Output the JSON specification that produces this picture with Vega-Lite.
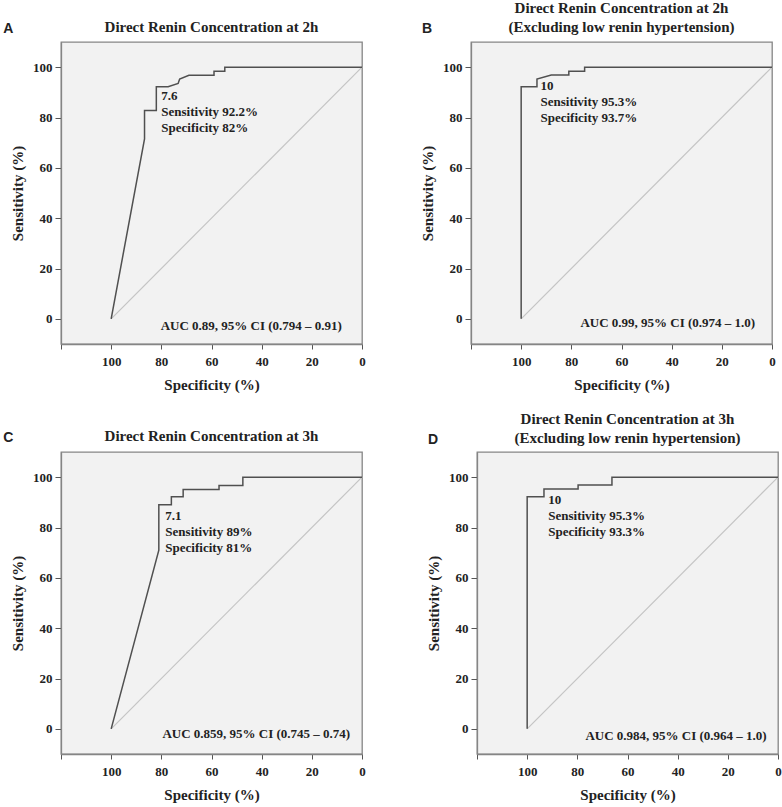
{
  "$schema": "https://vega.github.io/schema/vega-lite/v6.json",
  "background": "white",
  "padding": {"left": 2, "top": 0, "right": 2, "bottom": 2},
  "datasets": {
    "diag": [{"spec": 100, "sens": 0}, {"spec": 0, "sens": 100}],
    "rocA": [
      {"i": 0, "spec": 100, "sens": 0},
      {"i": 1, "spec": 86.7, "sens": 71.5},
      {"i": 2, "spec": 86.7, "sens": 82.8},
      {"i": 3, "spec": 82, "sens": 82.8},
      {"i": 4, "spec": 82, "sens": 92.2},
      {"i": 5, "spec": 77.3, "sens": 92.2},
      {"i": 6, "spec": 73.3, "sens": 93.5},
      {"i": 7, "spec": 72.7, "sens": 95.3},
      {"i": 8, "spec": 69, "sens": 96.8},
      {"i": 9, "spec": 59, "sens": 96.8},
      {"i": 10, "spec": 59, "sens": 98.4},
      {"i": 11, "spec": 54.7, "sens": 98.4},
      {"i": 12, "spec": 54.7, "sens": 100},
      {"i": 13, "spec": 0, "sens": 100}
    ],
    "rocB": [
      {"i": 0, "spec": 100, "sens": 0},
      {"i": 1, "spec": 100, "sens": 92.2},
      {"i": 2, "spec": 93.7, "sens": 92.2},
      {"i": 3, "spec": 93.7, "sens": 95.3},
      {"i": 4, "spec": 88, "sens": 96.9},
      {"i": 5, "spec": 81, "sens": 96.9},
      {"i": 6, "spec": 81, "sens": 98.4},
      {"i": 7, "spec": 74.7, "sens": 98.4},
      {"i": 8, "spec": 74.7, "sens": 100},
      {"i": 9, "spec": 0, "sens": 100}
    ],
    "rocC": [
      {"i": 0, "spec": 100, "sens": 0},
      {"i": 1, "spec": 81, "sens": 71},
      {"i": 2, "spec": 81, "sens": 89},
      {"i": 3, "spec": 76, "sens": 89},
      {"i": 4, "spec": 76, "sens": 92.2},
      {"i": 5, "spec": 71.3, "sens": 92.2},
      {"i": 6, "spec": 71.3, "sens": 95.1},
      {"i": 7, "spec": 57, "sens": 95.1},
      {"i": 8, "spec": 57, "sens": 96.7},
      {"i": 9, "spec": 47.5, "sens": 96.7},
      {"i": 10, "spec": 47.5, "sens": 100},
      {"i": 11, "spec": 0, "sens": 100}
    ],
    "rocD": [
      {"i": 0, "spec": 100, "sens": 0},
      {"i": 1, "spec": 100, "sens": 92.2},
      {"i": 2, "spec": 93.3, "sens": 92.2},
      {"i": 3, "spec": 93.3, "sens": 95.3},
      {"i": 4, "spec": 79.7, "sens": 95.3},
      {"i": 5, "spec": 79.7, "sens": 96.9},
      {"i": 6, "spec": 66.2, "sens": 96.9},
      {"i": 7, "spec": 66.2, "sens": 100},
      {"i": 8, "spec": 0, "sens": 100}
    ]
  },
  "config": {
    "view": {"stroke": "#858585", "fill": "#f2f2f2", "strokeWidth": 1.3},
    "axis": {
      "labelFont": "Liberation Serif", "labelFontWeight": "bold", "labelFontSize": 13, "labelColor": "#222222",
      "titleFont": "Liberation Serif", "titleFontWeight": "bold", "titleFontSize": 15, "titleColor": "#222222",
      "grid": false, "domainColor": "#858585", "domainWidth": 1.3, "tickColor": "#555555", "tickSize": 5,
      "labelFlush": false, "labelOverlap": false
    },
    "axisX": {"labelPadding": 6, "titlePadding": 9},
    "axisY": {"labelPadding": 3, "titlePadding": 7, "tickSize": 6},
    "title": {"font": "Liberation Serif", "fontSize": 15, "fontWeight": "bold", "color": "#222222", "offset": -13, "lineHeight": 19},
    "text": {"font": "Liberation Serif", "fontWeight": "bold", "fontSize": 13, "color": "#222222"}
  },
  "concat": [
    {
      "hconcat": [
        {
          "width": 301, "height": 302,
          "title": {"text": "Direct Renin Concentration at 2h"},
          "layer": [
            {"data": {"name": "diag"}, "mark": {"type": "line", "color": "#c4c4c4", "strokeWidth": 1.2},
             "encoding": {
              "x": {"field": "spec", "type": "quantitative", "scale": {"domain": [0, 120], "reverse": true, "nice": false, "zero": false},
                    "axis": {"title": "Specificity (%)", "values": [0, 20, 40, 60, 80, 100, 120], "labelExpr": "datum.value == 120 ? '' : datum.label"}},
              "y": {"field": "sens", "type": "quantitative", "scale": {"domain": [-10, 110], "nice": false, "zero": false},
                    "axis": {"title": "Sensitivity (%)", "values": [0, 20, 40, 60, 80, 100]}}}},
            {"data": {"name": "rocA"}, "mark": {"type": "line", "color": "#505050", "strokeWidth": 1.5},
             "encoding": {"x": {"field": "spec", "type": "quantitative"}, "y": {"field": "sens", "type": "quantitative"}, "order": {"field": "i", "type": "quantitative"}}},
            {"data": {"values": [{"label": ["7.6", "Sensitivity 92.2%", "Specificity 82%"]}]}, "mark": {"type": "text", "align": "left", "baseline": "alphabetic", "lineHeight": 16, "fontSize": 13},
             "encoding": {"x": {"datum": 80, "type": "quantitative"}, "y": {"datum": 86.8, "type": "quantitative"}, "text": {"field": "label"}}},
            {"data": {"values": [{"label": "AUC 0.89, 95% CI (0.794 – 0.91)"}]}, "mark": {"type": "text", "align": "right", "baseline": "middle", "fontSize": 13},
             "encoding": {"x": {"datum": 8, "type": "quantitative"}, "y": {"datum": -3, "type": "quantitative"}, "text": {"field": "label"}}},
            {"data": {"values": [{"label": "A"}]}, "mark": {"type": "text", "align": "left", "baseline": "alphabetic", "font": "Liberation Sans", "fontSize": 14},
             "encoding": {"x": {"datum": 143, "type": "quantitative"}, "y": {"datum": 113.6, "type": "quantitative"}, "text": {"field": "label"}}}
          ]
        },
        {
          "width": 301, "height": 302,
          "title": {"text": ["Direct Renin Concentration at 2h", "(Excluding low renin hypertension)"]},
          "layer": [
            {"data": {"name": "diag"}, "mark": {"type": "line", "color": "#c4c4c4", "strokeWidth": 1.2},
             "encoding": {
              "x": {"field": "spec", "type": "quantitative", "scale": {"domain": [0, 120], "reverse": true, "nice": false, "zero": false},
                    "axis": {"title": "Specificity (%)", "values": [0, 20, 40, 60, 80, 100, 120], "labelExpr": "datum.value == 120 ? '' : datum.label"}},
              "y": {"field": "sens", "type": "quantitative", "scale": {"domain": [-10, 110], "nice": false, "zero": false},
                    "axis": {"title": "Sensitivity (%)", "values": [0, 20, 40, 60, 80, 100]}}}},
            {"data": {"name": "rocB"}, "mark": {"type": "line", "color": "#505050", "strokeWidth": 1.5},
             "encoding": {"x": {"field": "spec", "type": "quantitative"}, "y": {"field": "sens", "type": "quantitative"}, "order": {"field": "i", "type": "quantitative"}}},
            {"data": {"values": [{"label": ["10", "Sensitivity 95.3%", "Specificity 93.7%"]}]}, "mark": {"type": "text", "align": "left", "baseline": "alphabetic", "lineHeight": 16, "fontSize": 13},
             "encoding": {"x": {"datum": 92.3, "type": "quantitative"}, "y": {"datum": 91.1, "type": "quantitative"}, "text": {"field": "label"}}},
            {"data": {"values": [{"label": "AUC 0.99, 95% CI (0.974 – 1.0)"}]}, "mark": {"type": "text", "align": "right", "baseline": "middle", "fontSize": 13},
             "encoding": {"x": {"datum": 6.7, "type": "quantitative"}, "y": {"datum": -1.7, "type": "quantitative"}, "text": {"field": "label"}}},
            {"data": {"values": [{"label": "B"}]}, "mark": {"type": "text", "align": "left", "baseline": "alphabetic", "font": "Liberation Sans", "fontSize": 14},
             "encoding": {"x": {"datum": 139.5, "type": "quantitative"}, "y": {"datum": 113.6, "type": "quantitative"}, "text": {"field": "label"}}}
          ]
        }
      ],
      "spacing": 109,
      "bounds": "flush"
    },
    {
      "hconcat": [
        {
          "width": 301, "height": 302,
          "title": {"text": "Direct Renin Concentration at 3h"},
          "layer": [
            {"data": {"name": "diag"}, "mark": {"type": "line", "color": "#c4c4c4", "strokeWidth": 1.2},
             "encoding": {
              "x": {"field": "spec", "type": "quantitative", "scale": {"domain": [0, 120], "reverse": true, "nice": false, "zero": false},
                    "axis": {"title": "Specificity (%)", "values": [0, 20, 40, 60, 80, 100, 120], "labelExpr": "datum.value == 120 ? '' : datum.label"}},
              "y": {"field": "sens", "type": "quantitative", "scale": {"domain": [-10, 110], "nice": false, "zero": false},
                    "axis": {"title": "Sensitivity (%)", "values": [0, 20, 40, 60, 80, 100]}}}},
            {"data": {"name": "rocC"}, "mark": {"type": "line", "color": "#505050", "strokeWidth": 1.5},
             "encoding": {"x": {"field": "spec", "type": "quantitative"}, "y": {"field": "sens", "type": "quantitative"}, "order": {"field": "i", "type": "quantitative"}}},
            {"data": {"values": [{"label": ["7.1", "Sensitivity 89%", "Specificity 81%"]}]}, "mark": {"type": "text", "align": "left", "baseline": "alphabetic", "lineHeight": 16, "fontSize": 13},
             "encoding": {"x": {"datum": 78.4, "type": "quantitative"}, "y": {"datum": 82.8, "type": "quantitative"}, "text": {"field": "label"}}},
            {"data": {"values": [{"label": "AUC 0.859, 95% CI (0.745 – 0.74)"}]}, "mark": {"type": "text", "align": "right", "baseline": "middle", "fontSize": 13},
             "encoding": {"x": {"datum": 4.7, "type": "quantitative"}, "y": {"datum": -2, "type": "quantitative"}, "text": {"field": "label"}}},
            {"data": {"values": [{"label": "C"}]}, "mark": {"type": "text", "align": "left", "baseline": "alphabetic", "font": "Liberation Sans", "fontSize": 14},
             "encoding": {"x": {"datum": 143, "type": "quantitative"}, "y": {"datum": 114, "type": "quantitative"}, "text": {"field": "label"}}}
          ]
        },
        {
          "width": 301, "height": 302,
          "title": {"text": ["Direct Renin Concentration at 3h", "(Excluding low renin hypertension)"]},
          "layer": [
            {"data": {"name": "diag"}, "mark": {"type": "line", "color": "#c4c4c4", "strokeWidth": 1.2},
             "encoding": {
              "x": {"field": "spec", "type": "quantitative", "scale": {"domain": [0, 120], "reverse": true, "nice": false, "zero": false},
                    "axis": {"title": "Specificity (%)", "values": [0, 20, 40, 60, 80, 100, 120], "labelExpr": "datum.value == 120 ? '' : datum.label"}},
              "y": {"field": "sens", "type": "quantitative", "scale": {"domain": [-10, 110], "nice": false, "zero": false},
                    "axis": {"title": "Sensitivity (%)", "values": [0, 20, 40, 60, 80, 100]}}}},
            {"data": {"name": "rocD"}, "mark": {"type": "line", "color": "#505050", "strokeWidth": 1.5},
             "encoding": {"x": {"field": "spec", "type": "quantitative"}, "y": {"field": "sens", "type": "quantitative"}, "order": {"field": "i", "type": "quantitative"}}},
            {"data": {"values": [{"label": ["10", "Sensitivity 95.3%", "Specificity 93.3%"]}]}, "mark": {"type": "text", "align": "left", "baseline": "alphabetic", "lineHeight": 16, "fontSize": 13},
             "encoding": {"x": {"datum": 91.6, "type": "quantitative"}, "y": {"datum": 89.4, "type": "quantitative"}, "text": {"field": "label"}}},
            {"data": {"values": [{"label": "AUC 0.984, 95% CI (0.964 – 1.0)"}]}, "mark": {"type": "text", "align": "right", "baseline": "middle", "fontSize": 13},
             "encoding": {"x": {"datum": 4.5, "type": "quantitative"}, "y": {"datum": -2.7, "type": "quantitative"}, "text": {"field": "label"}}},
            {"data": {"values": [{"label": "D"}]}, "mark": {"type": "text", "align": "left", "baseline": "alphabetic", "font": "Liberation Sans", "fontSize": 14},
             "encoding": {"x": {"datum": 139.5, "type": "quantitative"}, "y": {"datum": 113.1, "type": "quantitative"}, "text": {"field": "label"}}}
          ]
        }
      ],
      "spacing": 115,
      "bounds": "flush"
    }
  ],
  "columns": 1,
  "align": "none",
  "bounds": "full",
  "spacing": 18
}
